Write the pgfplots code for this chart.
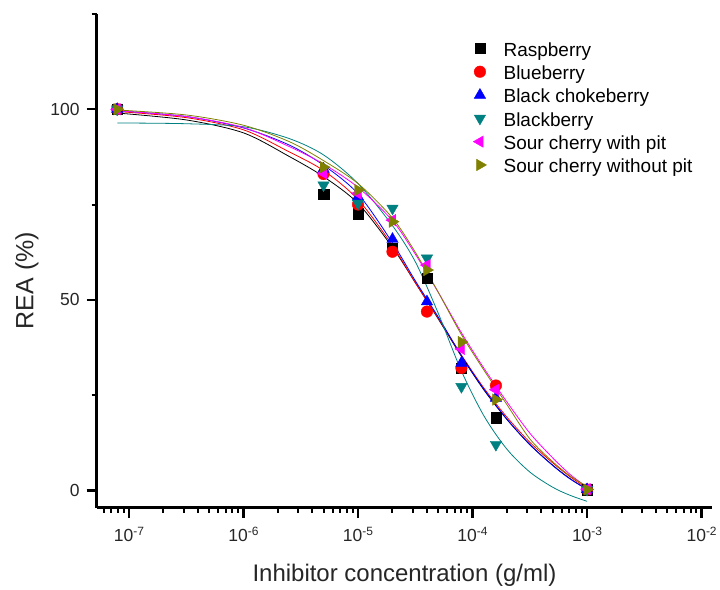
\documentclass[border=0pt]{standalone}
\usepackage{pgfplots}
\usepackage{pgfplotstable}
\pgfplotsset{compat=1.18}
\usetikzlibrary{calc}
\usepackage{fontspec}
\setmainfont{Liberation Sans}
\definecolor{cteal}{RGB}{0,128,128}
\definecolor{colive}{RGB}{128,128,0}
\definecolor{cmag}{RGB}{255,0,255}
\definecolor{cblue}{RGB}{0,0,255}
\definecolor{cred}{RGB}{255,0,0}
\newcommand{\tl}[1]{10\raisebox{0.62ex}{\fontsize{12}{12}\selectfont #1}}

% fitted curves
\pgfplotstableread{
x         black red   blue  teal  mag   olive
7.943e-8  99.0  99.4  99.6  96.4  99.6  99.8
3.162e-7  97.2  97.8  98.1  96.2  98.1  98.5
1e-6      93.8  94.6  95.1  95.4  95.2  95.8
2.512e-6  87.6  88.8  90.6  92.3  90.2  91.5
5.012e-6  82.3  83.9  85.3  88.0  85.6  86.5
1e-5      75.3  76.3  77.8  80.5  79.5  80.5
1.995e-5  63.8  64.3  65.0  69.5  70.8  71.5
3.162e-5  54.5  54.5  55.0  60.0  62.0  62.5
5.012e-5  45.0  45.2  45.5  46.5  52.0  52.0
7.943e-5  35.3  35.6  35.5  31.5  41.5  41.0
1.259e-4  26.3  26.8  26.5  19.5  32.0  31.5
1.995e-4  18.6  19.2  18.7  10.8  23.2  22.5
3.162e-4  12.0  12.6  12.0   4.8  15.0  13.5
5.012e-4   6.6   7.2   6.5   0.8   8.5   7.5
7.079e-4   3.1   3.6   3.0  -1.3   4.2   3.8
1e-3       0.2   0.5   0.3  -2.9   0.8   1.0
}\curves

% measured points
\pgfplotstableread{
x        black red   blue  teal  mag   olive
7.9e-8   100   100   100   100   100   100
5e-6     77.7  83.0  84.3  80.1  83.2  84.8
1e-5     72.6  75.0  77.0  75.3  77.9  78.8
2e-5     63.5  62.6  65.9  74.0  70.9  70.5
4e-5     55.6  46.9  49.5  60.9  59.1  57.8
8e-5     32.1  32.1  33.4  27.2  37.1  38.9
1.6e-4   19.0  27.5  24.2  12.0  26.4  23.8
1e-3     0.2   0.2   0.2   0.2   0.3   0.2
}\points

\begin{document}
\begin{tikzpicture}
\begin{axis}[
  name=ax,
  scale only axis, width=616.3pt, height=494.3pt,
  xmode=log, xmin=5.22e-8, xmax=1.24e-2, ymin=-4.6, ymax=125,
  axis lines=left,
  axis line style={-, line width=2.9pt, black},
  every outer x axis line/.append style={-},
  every outer y axis line/.append style={-},
  tick align=outside,
  major tick length=10pt, minor tick length=5pt,
  major tick style={line width=2.5pt, black},
  minor tick style={line width=2pt, black},
  xtick={1e-7,1e-6,1e-5,1e-4,1e-3,1e-2},
  xticklabels={\tl{-7},\tl{-6},\tl{-5},\tl{-4},\tl{-3},\tl{-2}},
  minor xtick={6e-8,7e-8,8e-8,9e-8,
    2e-7,3e-7,4e-7,5e-7,6e-7,7e-7,8e-7,9e-7,
    2e-6,3e-6,4e-6,5e-6,6e-6,7e-6,8e-6,9e-6,
    2e-5,3e-5,4e-5,5e-5,6e-5,7e-5,8e-5,9e-5,
    2e-4,3e-4,4e-4,5e-4,6e-4,7e-4,8e-4,9e-4,
    2e-3,3e-3,4e-3,5e-3,6e-3,7e-3,8e-3,9e-3},
  ytick={0,50,100}, yticklabels={0,50,100},
  minor ytick={25,75,125},
  tick label style={font=\fontsize{17.5}{17.5}\selectfont, text=black!85},
  xticklabel style={anchor=base, yshift=-23.7pt},
  yticklabel style={anchor=east, xshift=-3.5pt},
  xlabel={Inhibitor concentration (g/ml)},
  ylabel={REA (\%)},
  xlabel style={at={(rel axis cs:0.5,0)}, anchor=base, yshift=-73.7pt,
    font=\fontsize{24}{24}\selectfont, text=black!85},
  ylabel style={at={($(rel axis cs:0,0.46)+(-63.2pt,0pt)$)}, anchor=base, rotate=0,
    font=\fontsize{25}{25}\selectfont, text=black!85},
  legend cell align=left,
  legend image code/.code={\path (-6.5pt,0pt) (6.5pt,0pt); \draw[#1, only marks] plot coordinates {(0pt,3.4pt)};},
  legend style={at={(rel axis cs:0.6114,0.9474)}, anchor=north west,
    draw=none, fill=none, inner sep=0pt, column sep=14pt, row sep=0pt,
    font=\fontsize{19}{19}\selectfont,
    nodes={inner sep=3pt, text height=13pt, text depth=4.33pt}},
  clip=false,
]
% curves
\addplot[black, line width=0.8pt, smooth, forget plot] table[x=x, y=black] {\curves};
\addplot[cred, line width=0.8pt, smooth, forget plot] table[x=x, y=red] {\curves};
\addplot[cblue, line width=0.8pt, smooth, forget plot] table[x=x, y=blue] {\curves};
\addplot[cteal, line width=0.8pt, smooth, forget plot] table[x=x, y=teal] {\curves};
\addplot[cmag, line width=0.8pt, smooth, forget plot] table[x=x, y=mag] {\curves};
\addplot[colive, line width=0.8pt, smooth, forget plot] table[x=x, y=olive] {\curves};
% points
\addplot[only marks, mark=square*, mark size=5.2pt, black, mark options={draw=black, fill=black}] table[x=x, y=black] {\points};
\addlegendentry{Raspberry}
\addplot[only marks, mark=*, mark size=5.8pt, cred, mark options={draw=cred, fill=cred}] table[x=x, y=red] {\points};
\addlegendentry{Blueberry}
\addplot[only marks, mark=triangle*, mark size=6.6pt, cblue, mark options={draw=cblue, fill=cblue}] table[x=x, y=blue] {\points};
\addlegendentry{Black chokeberry}
\addplot[only marks, mark=triangle*, mark size=6.6pt, cteal, mark options={draw=cteal, fill=cteal, rotate=180}] table[x=x, y=teal] {\points};
\addlegendentry{Blackberry}
\addplot[only marks, mark=triangle*, mark size=6.6pt, cmag, mark options={draw=cmag, fill=cmag, rotate=90}] table[x=x, y=mag] {\points};
\addlegendentry{Sour cherry with pit}
\addplot[only marks, mark=triangle*, mark size=6.6pt, colive, mark options={draw=colive, fill=colive, rotate=-90}] table[x=x, y=olive] {\points};
\addlegendentry{Sour cherry without pit}
\end{axis}
\path (ax.south west) +(-96.7pt,-80.7pt) (ax.north east) +(7pt,14pt);
\end{tikzpicture}
\end{document}
